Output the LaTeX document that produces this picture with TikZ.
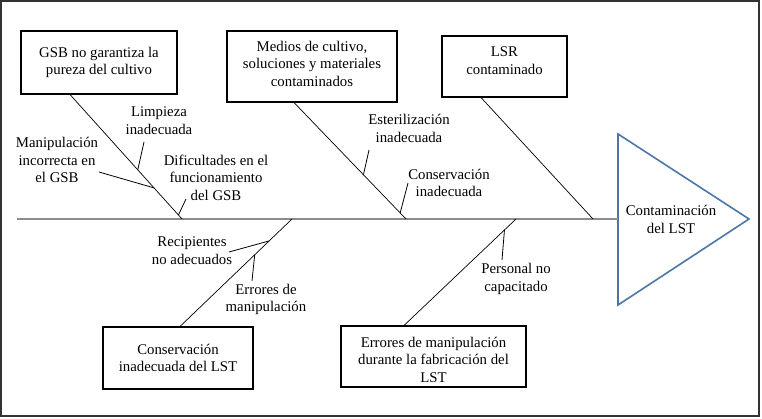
\documentclass[tikz,border=0pt]{standalone}
\usepackage{fontspec}
\setmainfont{Liberation Serif}
\newfontfamily\timesfont{Liberation Serif}
\usetikzlibrary{calc}
\definecolor{spinegray}{HTML}{8C8C8C}
\definecolor{triblue}{HTML}{4A76A8}
\definecolor{framegray}{HTML}{333333}
\begin{document}
\begin{tikzpicture}[x=1pt,y=-1pt,
  every node/.style={font=\timesfont\fontsize{14.8}{17.5}\selectfont, align=center, inner sep=0pt},
  causebox/.style={draw=black, line width=1.1pt},
  branch/.style={draw=black, line width=0.7pt},
  tick/.style={draw=black, line width=0.8pt},
  spine/.style={draw=spinegray, line width=2pt}]
\useasboundingbox (0,0) rectangle (762,419);
\draw[framegray, line width=1.8pt] (1,1) rectangle (759,416);

% boxes
\node[causebox, minimum width=156pt, minimum height=63pt] (b1) at (99,62.5) {GSB no garantiza la\\pureza del cultivo};
\node[causebox, minimum width=170pt, minimum height=71pt] (b2) at (312,66.5) {};
\node (b2t) at ([yshift=3pt]b2.center) {Medios de cultivo,\\soluciones y materiales\\contaminados};
\node[causebox, minimum width=125pt, minimum height=61pt] (b3) at (504.5,66.5) {};
\node (b3t) at ([yshift=6pt]b3.center) {LSR\\contaminado};
\node[causebox, minimum width=150pt, minimum height=62pt] (b4) at (178,358) {Conservación\\inadecuada del LST};
\node[causebox, minimum width=185pt, minimum height=61pt] (b5) at (433.5,356.5) {};
\node (b5t) at ([yshift=-3pt]b5.center) {Errores de manipulación\\durante la fabricación del\\LST};

% effect triangle
\coordinate (tri) at (618,219);
\draw[triblue, line width=1.6pt, line join=miter] (618,134) -- (749,219) -- (618,305) -- cycle;
\node (eff) at (671,219.5) {Contaminación\\del LST};

% spine
\coordinate (tail) at (17,219);
\draw[spine] (tail) -- (tri);

% branch coordinates
\coordinate (s1) at ([xshift=-29pt]b1.south);
\coordinate (e1) at (182,219);
\coordinate (s2) at ([xshift=-18pt]b2.south);
\coordinate (e2) at (406,219);
\coordinate (s3) at ([xshift=-23.5pt]b3.south);
\coordinate (e3) at (593,219);
\coordinate (s4) at ([xshift=2pt]b4.north);
\coordinate (e4) at (292,219);
\coordinate (s5) at ([xshift=-29.5pt]b5.north);
\coordinate (e5) at (516,219);

\draw[branch] (s1) -- (e1);
\draw[branch] (s2) -- (e2);
\draw[branch] (s3) -- (e3);
\draw[branch] (s4) -- (e4);
\draw[branch] (s5) -- (e5);

% labels
\node (l1) at (159,120.5) {Limpieza\\inadecuada};
\node (l2) at (57,160) {Manipulación\\incorrecta en\\el GSB};
\node (l3) at (216,177.5) {Dificultades en el\\funcionamiento\\del GSB};
\node (l4) at (409,128.5) {Esterilización\\inadecuada};
\node (l5) at (449,183) {Conservación\\inadecuada};
\node (l6) at (192,250.5) {Recipientes\\no adecuados};
\node (l7) at (266,299.5) {Errores de\\manipulación};
\node (l8) at (516,279) {Personal no\\capacitado};

% tick connectors
\coordinate (c1) at (144,142);
\coordinate (c2) at (99,172);
\coordinate (c3) at (186,199);
\coordinate (c4) at (369,150);
\coordinate (c5) at (408,183);
\coordinate (c6) at (229,252);
\coordinate (c7) at (252,281);
\coordinate (c8) at (502,260);

\draw[tick] (c1) -- ($(s1)!0.605!(e1)$);
\draw[tick] (c2) -- ($(s1)!0.75!(e1)$);
\draw[tick] (c3) -- ($(s1)!0.968!(e1)$);
\draw[tick] (c4) -- ($(s2)!0.62!(e2)$);
\draw[tick] (c5) -- ($(s2)!0.948!(e2)$);
\draw[tick] (c6) -- ($(s4)!0.796!(e4)$);
\draw[tick] (c7) -- ($(s4)!0.667!(e4)$);
\draw[tick] (c8) -- ($(s5)!0.897!(e5)$);
\end{tikzpicture}
\end{document}
